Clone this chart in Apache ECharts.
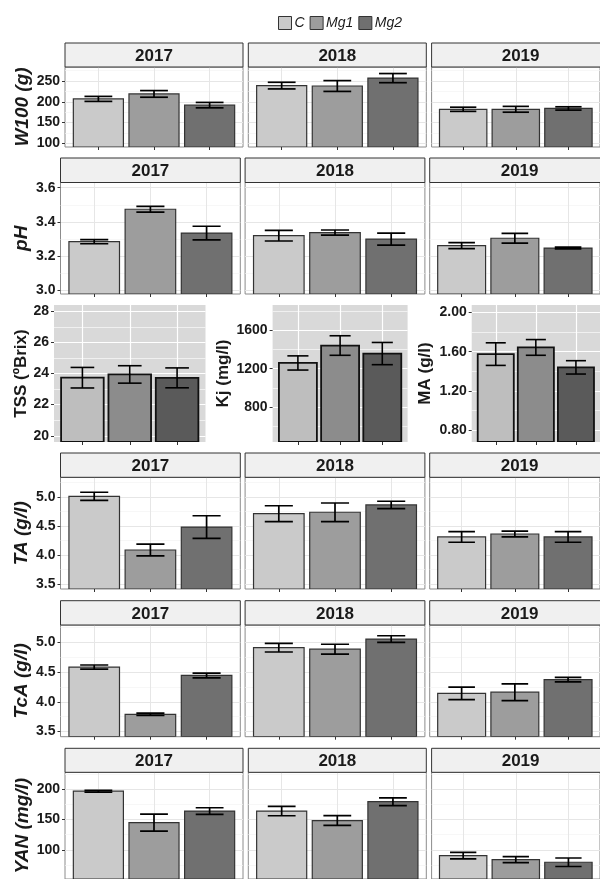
<!DOCTYPE html>
<html><head><meta charset="utf-8">
<script src="https://cdn.jsdelivr.net/npm/echarts@6/dist/echarts.min.js"></script>
<style>html,body{margin:0;padding:0;background:#fff}#c{width:600px;height:879px}</style>
</head><body><div id="c"></div>
<script>
// ---------------- data ----------------
const treatments = ['C', 'Mg1', 'Mg2'];
const years = ['2017', '2018', '2019'];

// facet rows: [year][treatment]
const w100Mean = [[207, 219, 192], [239, 238, 257], [182, 182, 184]];
const w100Sd   = [[6, 8, 6.5], [8, 13, 11], [5, 7, 4]];
const w100Ticks = [100, 150, 200, 250];
const w100Minor = [125, 175, 225, 275];
const w100Range = [91.25, 283.75];

const phMean = [[3.285, 3.474, 3.335], [3.32, 3.338, 3.30], [3.262, 3.305, 3.248]];
const phSd   = [[0.012, 0.017, 0.04], [0.031, 0.015, 0.035], [0.018, 0.028, 0.005]];
const phTicks = [3.0, 3.2, 3.4, 3.6];
const phMinor = [3.1, 3.3, 3.5];
const phRange = [2.98, 3.63];

// single panels: [treatment]
const tssMean = [23.73, 23.94, 23.72];
const tssSd   = [0.66, 0.56, 0.64];
const tssTicks = [20, 22, 24, 26, 28];
const tssMinor = [21, 23, 25, 27];
const tssRange = [19.6, 28.4];

const kjMean = [1260, 1442, 1358];
const kjSd   = [74, 102, 116];
const kjTicks = [800, 1200, 1600];
const kjMinor = [600, 1000, 1400, 1800];
const kjRange = [435, 1865];

const maMean = [1.575, 1.643, 1.44];
const maSd   = [0.115, 0.08, 0.068];
const maTicks = [0.8, 1.2, 1.6, 2.0];
const maMinor = [1.0, 1.4, 1.8];
const maRange = [0.68, 2.075];

const taMean = [[5.01, 4.085, 4.48], [4.71, 4.735, 4.862], [4.31, 4.36, 4.31]];
const taSd   = [[0.07, 0.1, 0.195], [0.137, 0.16, 0.063], [0.092, 0.05, 0.092]];
const taTicks = [3.5, 4.0, 4.5, 5.0];
const taMinor = [3.75, 4.25, 4.75, 5.25];
const taRange = [3.4125, 5.3375];

const tcaMean = [[4.58, 3.79, 4.44], [4.905, 4.88, 5.05], [4.14, 4.16, 4.37]];
const tcaSd   = [[0.035, 0.02, 0.04], [0.072, 0.083, 0.055], [0.105, 0.14, 0.037]];
const tcaTicks = [3.5, 4.0, 4.5, 5.0];
const tcaMinor = [3.75, 4.25, 4.75, 5.25];
const tcaRange = [3.415, 5.285];

const yanMean = [[196.8, 145, 164], [164, 148.4, 179.5], [90.6, 84, 79.6]];
const yanSd   = [[1.6, 14, 5.5], [7.7, 8, 6.4], [5.3, 5, 7]];
const yanTicks = [100, 150, 200];
const yanMinor = [75, 125, 175, 225];
const yanRange = [52, 228];

// ---------------- layout / style ----------------
const FONT = "'Liberation Sans', Arial, Helvetica, sans-serif";
const facetFill = ['#cacaca', '#9d9d9d', '#707070'];
const singleFill = ['#bebebe', '#8c8c8c', '#5a5a5a'];

const facetRows = [
  {title: 'W100 (g)', mean: w100Mean, sd: w100Sd, ticks: w100Ticks, minor: w100Minor, range: w100Range, dec: 0,
   stripTop: 43, top: 67, h: 80, left: 65, w: 178, step: 183.3, nameGap: 33},
  {title: 'pH', mean: phMean, sd: phSd, ticks: phTicks, minor: phMinor, range: phRange, dec: 1,
   stripTop: 158, top: 182.5, h: 111.5, left: 60.5, w: 179.8, step: 184.6, nameGap: 29},
  {title: 'TA (g/l)', mean: taMean, sd: taSd, ticks: taTicks, minor: taMinor, range: taRange, dec: 1,
   stripTop: 453, top: 477.3, h: 111.7, left: 60.5, w: 179.8, step: 184.6, nameGap: 29},
  {title: 'TcA (g/l)', mean: tcaMean, sd: tcaSd, ticks: tcaTicks, minor: tcaMinor, range: tcaRange, dec: 1,
   stripTop: 600.7, top: 625, h: 111.7, left: 60.5, w: 179.8, step: 184.6, nameGap: 29},
  {title: 'YAN (mg/l)', mean: yanMean, sd: yanSd, ticks: yanTicks, minor: yanMinor, range: yanRange, dec: 0,
   stripTop: 748.3, top: 772.3, h: 111.2, left: 65, w: 178, step: 183.3, nameGap: 33}
];
const singlePanels = [
  {title: 'TSS (ºBrix)', mean: tssMean, sd: tssSd, ticks: tssTicks, minor: tssMinor, range: tssRange, dec: 0,
   top: 305, h: 137, left: 54, w: 151.5, nameGap: 24},
  {title: 'Kj (mg/l)', mean: kjMean, sd: kjSd, ticks: kjTicks, minor: kjMinor, range: kjRange, dec: 0,
   top: 305, h: 137, left: 272.6, w: 135, nameGap: 41},
  {title: 'MA (g/l)', mean: maMean, sd: maSd, ticks: maTicks, minor: maMinor, range: maRange, dec: 2,
   top: 305, h: 137, left: 471.7, w: 135, nameGap: 38}
];

function makeRender(fill, border, bw, ebw, base) {
  return function (params, api) {
    const x = api.value(0), m = api.value(1), s = api.value(2);
    const tl = api.coord([x - 0.45, m]);
    const br = api.coord([x + 0.45, base]);
    const eTop = api.coord([x, m + s]);
    const eBot = api.coord([x, m - s]);
    const cl = api.coord([x - 0.25, m])[0];
    const cr = api.coord([x + 0.25, m])[0];
    const es = {stroke: '#000', lineWidth: ebw};
    return {type: 'group', children: [
      {type: 'rect', shape: {x: tl[0], y: tl[1], width: br[0] - tl[0], height: br[1] - tl[1]},
       style: {fill: fill, stroke: border, lineWidth: bw}},
      {type: 'line', shape: {x1: eTop[0], y1: eTop[1], x2: eBot[0], y2: eBot[1]}, style: es},
      {type: 'line', shape: {x1: cl, y1: eTop[1], x2: cr, y2: eTop[1]}, style: es},
      {type: 'line', shape: {x1: cl, y1: eBot[1], x2: cr, y2: eBot[1]}, style: es}
    ]};
  };
}

const grid = [], xAxis = [], yAxis = [], series = [], graphic = [];

function addPanel(p, left, mean, sd, opts) {
  const g = grid.length;
  grid.push({left: left, top: p.top, width: p.w, height: p.h, show: true,
    backgroundColor: opts.bg, borderColor: opts.border, borderWidth: opts.borderWidth, containLabel: false});
  xAxis.push({gridIndex: g, type: 'value', min: 0.4, max: 3.6,
    axisLine: {show: false},
    axisTick: {show: true, customValues: [1, 2, 3], length: 3, lineStyle: {color: '#333', width: 1}},
    axisLabel: {show: false},
    splitLine: {show: true, lineStyle: {color: opts.major, width: opts.majorW}}});
  // major axis
  yAxis.push({gridIndex: g, type: 'value', min: p.range[0], max: p.range[1], position: 'left',
    name: opts.showName ? p.title : '', nameLocation: 'middle', nameGap: p.nameGap, nameRotate: 90,
    nameTextStyle: {fontFamily: FONT, fontSize: opts.nameSize, fontWeight: 'bold', fontStyle: opts.nameStyle, color: '#1a1a1a'},
    axisLine: {show: false},
    axisTick: {show: opts.showLabels, customValues: p.ticks, length: 3, lineStyle: {color: '#333', width: 1}},
    axisLabel: {show: opts.showLabels, customValues: p.ticks, margin: 5, fontFamily: FONT, fontSize: 14, fontWeight: 'bold', color: '#1a1a1a',
      formatter: v => Number(v).toFixed(p.dec)},
    splitLine: {show: true, lineStyle: {color: opts.major, width: opts.majorW}}});
  // minor gridline axis
  yAxis.push({gridIndex: g, type: 'value', min: p.range[0], max: p.range[1], position: 'left',
    axisLine: {show: false},
    axisTick: {show: false, customValues: p.minor},
    axisLabel: {show: false, customValues: p.minor},
    splitLine: {show: true, lineStyle: {color: opts.minor, width: opts.minorW}}});
  treatments.forEach((t, k) => {
    series.push({type: 'custom', name: t, xAxisIndex: g, yAxisIndex: 2 * g, clip: true,
      itemStyle: {color: opts.fills[k], borderColor: '#333', borderWidth: 1},
      renderItem: makeRender(opts.fills[k], opts.barBorder, opts.barBW, opts.ebW, Math.max(0, p.range[0])),
      data: [[k + 1, mean[k], sd[k]]], z: 3});
  });
}

// facet rows
facetRows.forEach(p => {
  years.forEach((yr, i) => {
    const left = p.left + i * p.step;
    addPanel(p, left, p.mean[i], p.sd[i], {
      bg: '#ffffff', border: '#8c8c8c', borderWidth: 1,
      major: '#e6e6e6', majorW: 1, minor: '#f4f4f4', minorW: 0.7,
      showName: i === 0, showLabels: i === 0, nameSize: 19, nameStyle: 'italic',
      fills: facetFill, barBorder: '#333', barBW: 1.2, ebW: 1.7
    });
    graphic.push({type: 'rect', shape: {x: left, y: p.stripTop, width: p.w, height: p.top - p.stripTop},
      style: {fill: '#f0f0f0', stroke: '#333', lineWidth: 1}, z: 10});
    graphic.push({type: 'text', x: left + p.w / 2, y: p.stripTop + (p.top - p.stripTop) / 2 + 1,
      style: {text: yr, fontFamily: FONT, fontSize: 17, fontWeight: 'bold', fill: '#1a1a1a', align: 'center', verticalAlign: 'middle'}, z: 11});
  });
});

// single panels (row 3)
singlePanels.forEach(p => {
  addPanel(p, p.left, p.mean, p.sd, {
    bg: '#d9d9d9', border: '#d9d9d9', borderWidth: 0,
    major: '#ffffff', majorW: 1.2, minor: '#ffffff', minorW: 0.6,
    showName: true, showLabels: true, nameSize: 17, nameStyle: 'normal',
    fills: singleFill, barBorder: '#111', barBW: 1.8, ebW: 1.6
  });
});

const chart = echarts.init(document.getElementById('c'), null, {renderer: 'canvas'});
chart.setOption({
  animation: false,
  backgroundColor: '#ffffff',
  legend: {data: treatments, left: 273, top: 11, icon: 'rect', itemWidth: 13, itemHeight: 13, itemGap: 5,
    itemStyle: {borderColor: '#333', borderWidth: 1},
    textStyle: {fontFamily: FONT, fontSize: 14, fontStyle: 'italic', color: '#1a1a1a', padding: [0, 0, 0, -2]}},
  grid: grid, xAxis: xAxis, yAxis: yAxis, series: series, graphic: graphic
});
</script></body></html>
